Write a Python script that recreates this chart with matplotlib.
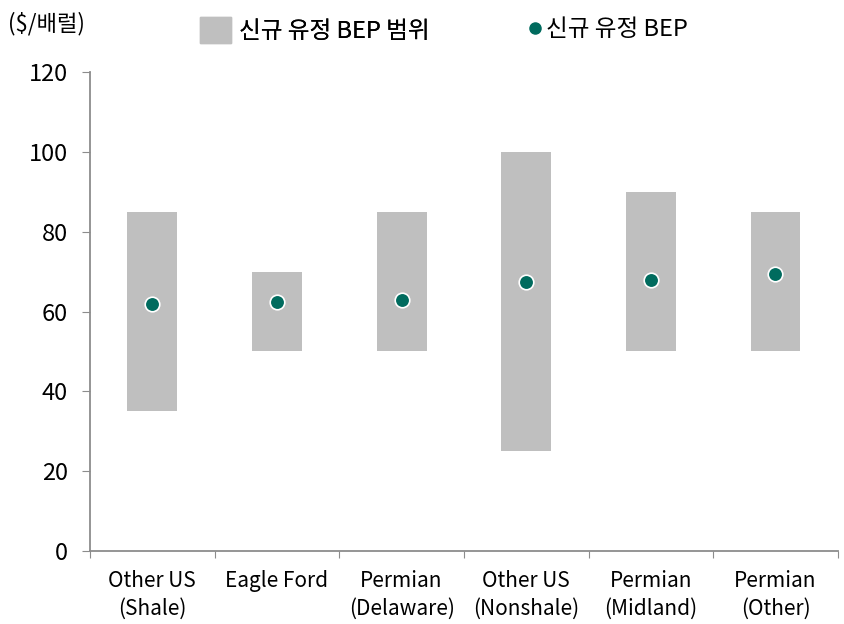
import matplotlib.pyplot as plt
from matplotlib.patches import Patch
from matplotlib.lines import Line2D
import numpy as np

plt.rcParams['font.family'] = ['Noto Sans CJK KR', 'DejaVu Sans']

# 신규 유정 손익분기점 (BEP) 범위와 평균
categories = ["Other US\n(Shale)", "Eagle Ford", "Permian\n(Delaware)",
              "Other US\n(Nonshale)", "Permian\n(Midland)", "Permian\n(Other)"]
bep_low = [35, 50, 50, 25, 50, 50]
bep_high = [85, 70, 85, 100, 90, 85]
bep_mid = [62, 62.5, 63, 67.5, 68, 69.5]

bar_color = "#BFBFBF"
dot_color = "#006B5E"
axis_color = "#8C8C8C"

fig = plt.figure(figsize=(8.45, 6.24), dpi=100)
ax = fig.add_axes([0.1065, 0.117, 0.885, 0.7676])

x = np.arange(len(categories))
ax.bar(x, np.array(bep_high) - np.array(bep_low), bottom=bep_low,
       width=0.4, color=bar_color, zorder=2)
ax.scatter(x, bep_mid, s=110, color=dot_color, edgecolor="white",
           linewidth=1.2, zorder=3)

ax.set_xlim(-0.5, len(categories) - 0.5)
ax.set_ylim(0, 120)
ax.set_yticks(range(0, 121, 20))
ax.tick_params(axis="y", labelsize=17, length=6, color=axis_color, pad=10)

# category labels centred, ticks on the boundaries
ax.set_xticks(np.arange(-0.5, len(categories), 1.0))
ax.set_xticklabels([])
ax.set_xticks(x, minor=True)
ax.set_xticklabels(categories, minor=True, fontsize=15, linespacing=1.3)
ax.tick_params(axis="x", which="major", length=5, color=axis_color)
ax.tick_params(axis="x", which="minor", length=0, pad=14)

for side in ["top", "right"]:
    ax.spines[side].set_visible(False)
for side in ["left", "bottom"]:
    ax.spines[side].set_color(axis_color)
    ax.spines[side].set_linewidth(1.3)

fig.text(0.010, 0.963, "($/배럴)", fontsize=16, va="center", ha="left")

leg1 = fig.legend(handles=[Patch(color=bar_color, label="신규 유정 BEP 범위")],
                  loc="center left", bbox_to_anchor=(0.212, 0.952),
                  frameon=False, fontsize=17, handlelength=1.3,
                  handleheight=1.3, handletextpad=0.35)
fig.add_artist(leg1)
fig.legend(handles=[Line2D([], [], marker="o", linestyle="none",
                           color=dot_color, markersize=8,
                           label="신규 유정 BEP")],
           loc="center left", bbox_to_anchor=(0.600, 0.952),
           frameon=False, fontsize=17, handlelength=0.6,
           handletextpad=0.15)

fig.savefig("out.png", dpi=100)
